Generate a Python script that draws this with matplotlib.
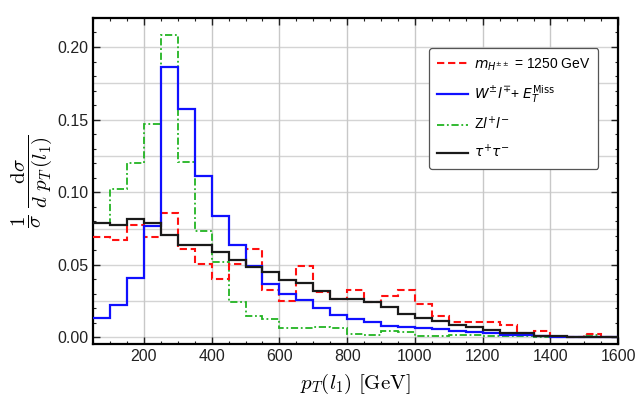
import numpy as np
import matplotlib
matplotlib.use("Agg")
import matplotlib.pyplot as plt
from matplotlib.ticker import MultipleLocator, FormatStrFormatter

# bin edges 50 .. 1600 GeV, width 50
edges = np.arange(50, 1601, 50)

# m_H++ = 1250 GeV signal
sig = [0.0692, 0.0669, 0.0772, 0.0692, 0.0857, 0.0611, 0.0508, 0.0405, 0.0508, 0.0611,
       0.0329, 0.0248, 0.0492, 0.0313, 0.0267, 0.0326, 0.0244, 0.0285, 0.0326, 0.0228,
       0.0147, 0.0106, 0.0106, 0.0106, 0.0083, 0.0032, 0.0044, 0.0005, 0.0003, 0.0023,
       0.0005]
# W l + MET
wl = [0.0133, 0.0223, 0.0407, 0.0766, 0.1860, 0.1575, 0.1115, 0.0834, 0.0634, 0.0494,
      0.0370, 0.0298, 0.0255, 0.0200, 0.0156, 0.0129, 0.0110, 0.0080, 0.0071, 0.0062,
      0.0055, 0.0046, 0.0037, 0.0028, 0.0020, 0.0014, 0.0009, 0.0005, 0.0005, 0.0005,
      0.0005]
# Z l l
zll = [0.0790, 0.1023, 0.1200, 0.1470, 0.2085, 0.1210, 0.0731, 0.0520, 0.0244, 0.0145,
       0.0126, 0.0062, 0.0064, 0.0071, 0.0064, 0.0023, 0.0014, 0.0044, 0.0039, 0.0009,
       0.0009, 0.0014, 0.0014, 0.0009, 0.0009, 0.0009, 0.0005, 0.0005, 0.0005, 0.0014,
       0.0002]
# tau tau
tautau = [0.0789, 0.0772, 0.0818, 0.0789, 0.0708, 0.0639, 0.0639, 0.0586, 0.0531, 0.0485,
          0.0448, 0.0396, 0.0372, 0.0317, 0.0264, 0.0264, 0.0244, 0.0211, 0.0159, 0.0136,
          0.0113, 0.0088, 0.0069, 0.0050, 0.0032, 0.0028, 0.0012, 0.0009, 0.0005, 0.0005,
          0.0003]

labels = [r"$m_{H^{\pm\pm}}$ = 1250 GeV",
          r"$W^{\pm}l^{\mp}$+ $E_T^{\mathrm{Miss}}$",
          r"Z$l^{+}l^{-}$",
          r"$\tau^{+}\tau^{-}$"]

plt.rcParams['font.family'] = ['Liberation Sans', 'DejaVu Sans']

fig = plt.figure(figsize=(6.42, 4.17), dpi=100)
ax = fig.add_axes([0.145, 0.175, 0.818, 0.782])

for yv in np.arange(0, 0.22, 0.025):
    ax.axhline(yv, color="#d4d4d4", lw=1.0, zorder=0)
for xv in range(200, 1601, 200):
    ax.axvline(xv, color="#c8c8c8", lw=1.0, zorder=0)

ax.stairs(zll, edges, baseline=None, color="#22b422", lw=1.3, ls=(0, (4, 1.5, 1, 1.5)), label=labels[2], zorder=2)
ax.stairs(sig, edges, baseline=None, color="#ff1010", lw=1.5, ls=(0, (3.5, 1.8)), label=labels[0], zorder=3)
ax.stairs(wl, edges, baseline=None, color="#1010ff", lw=1.6, label=labels[1], zorder=4)
ax.stairs(tautau, edges, baseline=None, color="#1a1a1a", lw=1.6, label=labels[3], zorder=5)

ax.set_xlim(50, 1600)
ax.set_ylim(-0.0045, 0.22)

ax.xaxis.set_major_locator(MultipleLocator(200))
ax.xaxis.set_minor_locator(MultipleLocator(50))
ax.yaxis.set_major_locator(MultipleLocator(0.05))
ax.yaxis.set_minor_locator(MultipleLocator(0.01))
ax.yaxis.set_major_formatter(FormatStrFormatter("%.2f"))
ax.tick_params(which="both", direction="in", top=True, right=True, labelsize=11.5, colors="#222222")
ax.tick_params(which="major", length=5, width=1.0)
ax.tick_params(which="minor", length=2.5, width=0.8)
for s in ax.spines.values():
    s.set_linewidth(1.6)

ax.set_xlabel(r"$p_T(l_1)\ [\mathrm{GeV}]$", fontsize=15, math_fontfamily="cm", labelpad=6)
ax.set_ylabel(r"$\dfrac{1}{\sigma}\ \dfrac{\mathrm{d}\sigma}{d\ p_T\,(l_1)}$", fontsize=15,
              math_fontfamily="cm", labelpad=2)

h, l = ax.get_legend_handles_labels()
order = [1, 2, 0, 3]
leg = ax.legend([h[i] for i in order], [l[i] for i in order], loc="upper right",
                bbox_to_anchor=(0.962, 0.908), borderaxespad=0, handlelength=2.2,
                handletextpad=0.4, labelspacing=0.75, borderpad=0.6, fancybox=True,
                framealpha=1, edgecolor="#555555",
                prop={"size": 10, "math_fontfamily": "dejavusans"})
leg.get_frame().set_linewidth(0.9)

fig.savefig("out.png", dpi=100)
